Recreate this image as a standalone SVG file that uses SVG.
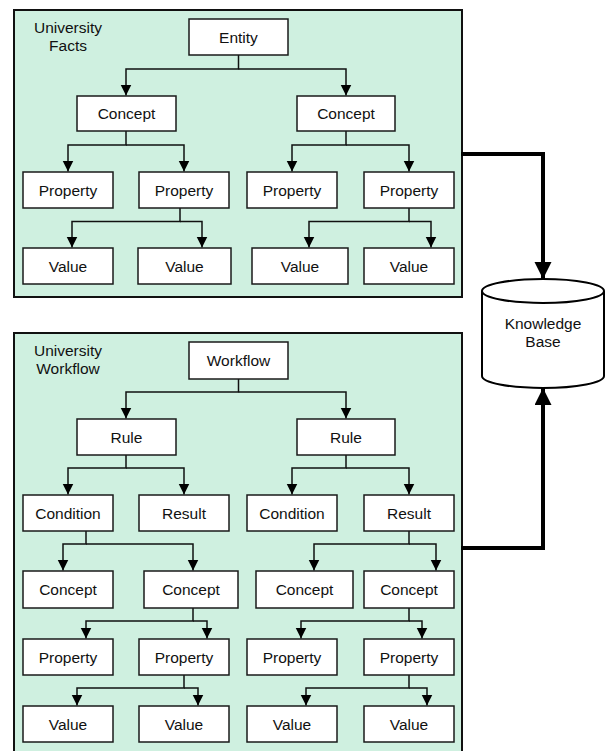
<svg xmlns="http://www.w3.org/2000/svg" width="605" height="751" viewBox="0 0 605 751">
  <style>
    .panel { fill: #cff0e0; stroke: #111; stroke-width: 2; }
    .box { fill: #ffffff; stroke: #1a1a1a; stroke-width: 1.5; }
    .lbl { font-family: "Liberation Sans", Arial, sans-serif; font-size: 15.5px; fill: #111; text-anchor: middle; }
    .link { fill: none; stroke: #111; stroke-width: 1.5; marker-end: url(#tip); }
    .bus { fill: none; stroke: #000; stroke-width: 4; marker-end: url(#bigtip); }
    .db { fill: #ffffff; stroke: #000; stroke-width: 2; }
  </style>
  <defs>
    <marker id="tip" markerUnits="userSpaceOnUse" markerWidth="11" markerHeight="12" refX="11" refY="5.5" orient="auto">
      <path d="M0,0 L11,5.5 L0,11 z" fill="#000"/>
    </marker>
    <marker id="bigtip" markerUnits="userSpaceOnUse" markerWidth="17" markerHeight="18" refX="17" refY="8.5" orient="auto">
      <path d="M0,0 L17,8.5 L0,17 z" fill="#000"/>
    </marker>
  </defs>

  <rect width="605" height="751" fill="#ffffff"/>

  <!-- Facts panel -->
  <g id="facts-panel">
    <rect class="panel" x="14" y="10" width="448" height="287"/>
    <text class="lbl" x="68" y="33">University</text>
    <text class="lbl" x="68" y="51">Facts</text>
  </g>

  <!-- Workflow panel -->
  <g id="workflow-panel">
    <rect class="panel" x="14" y="333" width="448" height="430"/>
    <text class="lbl" x="68" y="356">University</text>
    <text class="lbl" x="68" y="374">Workflow</text>
  </g>

  <!-- Connectors -->
  <g id="connectors">
    <!-- facts tree -->
    <path class="link" d="M238.5,55 V69 H126 V95.5"/>
    <path class="link" d="M238.5,69 H346 V95.5"/>
    <path class="link" d="M126,131 V145 H68 V171.5"/>
    <path class="link" d="M126,145 H184 V171.5"/>
    <path class="link" d="M346,131 V145 H292 V171.5"/>
    <path class="link" d="M346,145 H409 V171.5"/>
    <path class="link" d="M180,208 V221.5 H72 V247.5"/>
    <path class="link" d="M180,221.5 H202 V247.5"/>
    <path class="link" d="M409,208 V221.5 H309 V247.5"/>
    <path class="link" d="M409,221.5 H431 V247.5"/>

    <!-- workflow tree -->
    <path class="link" d="M238.5,379 V392 H126 V418.5"/>
    <path class="link" d="M238.5,392 H346 V418.5"/>
    <path class="link" d="M126,455 V468 H68 V494.5"/>
    <path class="link" d="M126,468 H184 V494.5"/>
    <path class="link" d="M346,455 V468 H292 V494.5"/>
    <path class="link" d="M346,468 H409 V494.5"/>
    <path class="link" d="M86,531 V544 H63 V570.5"/>
    <path class="link" d="M86,544 H193 V570.5"/>
    <path class="link" d="M409,531 V544 H314 V570.5"/>
    <path class="link" d="M409,544 H436 V570.5"/>
    <path class="link" d="M193,608 V621 H86 V638.5"/>
    <path class="link" d="M193,621 H207 V638.5"/>
    <path class="link" d="M409,608 V621 H301 V638.5"/>
    <path class="link" d="M409,621 H422 V638.5"/>
    <path class="link" d="M184,675 V688 H77 V705.5"/>
    <path class="link" d="M184,688 H198 V705.5"/>
    <path class="link" d="M409,675 V688 H306 V705.5"/>
    <path class="link" d="M409,688 H427 V705.5"/>

    <!-- feeds into the knowledge base -->
    <path class="bus" d="M461,154 H543 V279"/>
    <path class="bus" d="M461,548 H543 V388"/>
  </g>

  <!-- Facts nodes -->
  <g id="entity"><rect class="box" x="189" y="19" width="99" height="36"/><text class="lbl" x="238.5" y="42.5">Entity</text></g>
  <g id="f-concept-1"><rect class="box" x="77" y="96" width="99" height="35"/><text class="lbl" x="126.5" y="119">Concept</text></g>
  <g id="f-concept-2"><rect class="box" x="297" y="96" width="98" height="35"/><text class="lbl" x="346" y="119">Concept</text></g>
  <g id="f-property-1"><rect class="box" x="23" y="172" width="90" height="36"/><text class="lbl" x="68" y="195.5">Property</text></g>
  <g id="f-property-2"><rect class="box" x="139" y="172" width="90" height="36"/><text class="lbl" x="184" y="195.5">Property</text></g>
  <g id="f-property-3"><rect class="box" x="247" y="172" width="90" height="36"/><text class="lbl" x="292" y="195.5">Property</text></g>
  <g id="f-property-4"><rect class="box" x="364" y="172" width="90" height="36"/><text class="lbl" x="409" y="195.5">Property</text></g>
  <g id="f-value-1"><rect class="box" x="23" y="248" width="90" height="36"/><text class="lbl" x="68" y="271.5">Value</text></g>
  <g id="f-value-2"><rect class="box" x="138" y="248" width="93" height="36"/><text class="lbl" x="184.5" y="271.5">Value</text></g>
  <g id="f-value-3"><rect class="box" x="252" y="248" width="96" height="36"/><text class="lbl" x="300" y="271.5">Value</text></g>
  <g id="f-value-4"><rect class="box" x="364" y="248" width="90" height="36"/><text class="lbl" x="409" y="271.5">Value</text></g>

  <!-- Workflow nodes -->
  <g id="workflow"><rect class="box" x="189" y="342" width="99" height="37"/><text class="lbl" x="238.5" y="366">Workflow</text></g>
  <g id="w-rule-1"><rect class="box" x="77" y="419" width="99" height="36"/><text class="lbl" x="126.5" y="442.5">Rule</text></g>
  <g id="w-rule-2"><rect class="box" x="297" y="419" width="98" height="36"/><text class="lbl" x="346" y="442.5">Rule</text></g>
  <g id="w-condition-1"><rect class="box" x="23" y="495" width="90" height="36"/><text class="lbl" x="68" y="518.5">Condition</text></g>
  <g id="w-result-1"><rect class="box" x="139" y="495" width="90" height="36"/><text class="lbl" x="184" y="518.5">Result</text></g>
  <g id="w-condition-2"><rect class="box" x="247" y="495" width="90" height="36"/><text class="lbl" x="292" y="518.5">Condition</text></g>
  <g id="w-result-2"><rect class="box" x="364" y="495" width="90" height="36"/><text class="lbl" x="409" y="518.5">Result</text></g>
  <g id="w-concept-1"><rect class="box" x="23" y="571" width="90" height="37"/><text class="lbl" x="68" y="595">Concept</text></g>
  <g id="w-concept-2"><rect class="box" x="144" y="571" width="94" height="37"/><text class="lbl" x="191" y="595">Concept</text></g>
  <g id="w-concept-3"><rect class="box" x="256" y="571" width="97" height="37"/><text class="lbl" x="304.5" y="595">Concept</text></g>
  <g id="w-concept-4"><rect class="box" x="364" y="571" width="90" height="37"/><text class="lbl" x="409" y="595">Concept</text></g>
  <g id="w-property-1"><rect class="box" x="23" y="639" width="90" height="36"/><text class="lbl" x="68" y="662.5">Property</text></g>
  <g id="w-property-2"><rect class="box" x="139" y="639" width="90" height="36"/><text class="lbl" x="184" y="662.5">Property</text></g>
  <g id="w-property-3"><rect class="box" x="247" y="639" width="90" height="36"/><text class="lbl" x="292" y="662.5">Property</text></g>
  <g id="w-property-4"><rect class="box" x="364" y="639" width="90" height="36"/><text class="lbl" x="409" y="662.5">Property</text></g>
  <g id="w-value-1"><rect class="box" x="23" y="706" width="90" height="36"/><text class="lbl" x="68" y="729.5">Value</text></g>
  <g id="w-value-2"><rect class="box" x="139" y="706" width="90" height="36"/><text class="lbl" x="184" y="729.5">Value</text></g>
  <g id="w-value-3"><rect class="box" x="247" y="706" width="90" height="36"/><text class="lbl" x="292" y="729.5">Value</text></g>
  <g id="w-value-4"><rect class="box" x="364" y="706" width="90" height="36"/><text class="lbl" x="409" y="729.5">Value</text></g>

  <!-- Knowledge base cylinder -->
  <g id="knowledge-base">
    <path class="db" d="M482,291 V376 A61,12 0 0 0 604,376 V291"/>
    <ellipse class="db" cx="543" cy="291" rx="61" ry="12"/>
    <text class="lbl" x="543" y="329">Knowledge</text>
    <text class="lbl" x="543" y="347">Base</text>
  </g>
</svg>
